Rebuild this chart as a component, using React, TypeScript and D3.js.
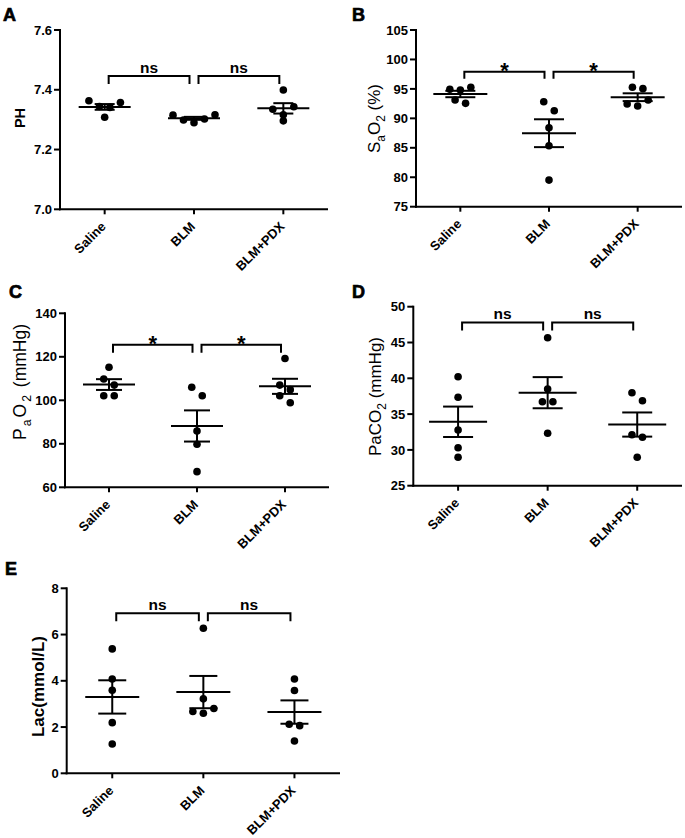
import React from "react";
import * as d3 from "d3";

// ---------- data ----------
const groups = ["Saline", "BLM", "BLM+PDX"];

const phValues = [
  [7.357, 7.363, 7.344, 7.341, 7.308],
  [7.315, 7.302, 7.29, 7.299, 7.316],
  [7.399, 7.343, 7.335, 7.316, 7.296],
];
const sao2Values = [
  [94.93, 94.81, 95.27, 92.55, 93.11],
  [92.82, 91.3, 88.4, 85.35, 79.52],
  [95.27, 95.04, 93.11, 92.43, 92.1],
];
const pao2Values = [
  [115.2, 109.8, 107.0, 102.1, 102.1],
  [106.0, 102.1, 85.9, 79.8, 67.2],
  [119.2, 107.0, 104.9, 102.1, 98.9],
];
const paco2Values = [
  [40.22, 37.35, 32.78, 30.31, 28.97],
  [45.67, 38.5, 36.73, 36.73, 32.32],
  [37.99, 36.87, 32.12, 31.76, 28.97],
];
const lacValues = [
  [5.38, 4.08, 3.59, 2.19, 1.27],
  [6.27, 3.22, 2.8, 2.67, 2.6],
  [4.08, 3.58, 2.12, 2.06, 1.4],
];

const phTicks = [7.0, 7.2, 7.4, 7.6];
const sao2Ticks = [75, 80, 85, 90, 95, 100, 105];
const pao2Ticks = [60, 80, 100, 120, 140];
const paco2Ticks = [25, 30, 35, 40, 45, 50];
const lacTicks = [0, 2, 4, 6, 8];

const phSig = ["ns", "ns"];
const sao2Sig = ["*", "*"];
const pao2Sig = ["*", "*"];
const paco2Sig = ["ns", "ns"];
const lacSig = ["ns", "ns"];

// bracket level in data units
const phBracket = 7.446;
const sao2Bracket = 97.9;
const pao2Bracket = 125.5;
const paco2Bracket = 47.8;
const lacBracket = 6.92;

// ---------- layout ----------
const FONT = "'Liberation Sans', Arial, Helvetica, sans-serif";

type TitlePart = { t: string; sub?: boolean; dx?: number };
type PanelCfg = {
  letter: string;
  lx: number;
  ly: number;
  x0: number;
  x1: number;
  yTop: number;
  yBot: number;
  values: number[][];
  ticks: number[];
  fmt: (v: number) => string;
  sig: string[];
  bracket: number;
  drop: number;
  meanHalf: number;
  semHalf: number;
  title: TitlePart[];
  titleX: number;
  titleY: number;
  titleSize: number;
  titleWeight: string;
};

const panels: PanelCfg[] = [
  {
    letter: "A", lx: 3, ly: 21,
    x0: 60, x1: 328, yTop: 30, yBot: 209.3,
    values: phValues, ticks: phTicks, fmt: d3.format(".1f"),
    sig: phSig, bracket: phBracket, drop: 8, meanHalf: 26, semHalf: 10,
    title: [{ t: "PH" }], titleX: 25.3, titleY: 118, titleSize: 14.5, titleWeight: "bold",
  },
  {
    letter: "B", lx: 352, ly: 21,
    x0: 416, x1: 682, yTop: 30, yBot: 206.7,
    values: sao2Values, ticks: sao2Ticks, fmt: d3.format("d"),
    sig: sao2Sig, bracket: sao2Bracket, drop: 7, meanHalf: 27, semHalf: 15,
    title: [{ t: "S" }, { t: "a", sub: true }, { t: "O" }, { t: "2", sub: true }, { t: " (%)" }],
    titleX: 379.5, titleY: 118.5, titleSize: 17, titleWeight: "normal",
  },
  {
    letter: "C", lx: 9, ly: 298,
    x0: 65, x1: 329, yTop: 313.3, yBot: 487.3,
    values: pao2Values, ticks: pao2Ticks, fmt: d3.format("d"),
    sig: pao2Sig, bracket: pao2Bracket, drop: 8, meanHalf: 26, semHalf: 13,
    title: [
      { t: "P" },
      { t: "a", sub: true, dx: 2 },
      { t: "O", dx: 2 },
      { t: "2", sub: true, dx: 2 },
      { t: " (mmHg)", dx: 3 },
    ],
    titleX: 25.5, titleY: 382, titleSize: 17.5, titleWeight: "normal",
  },
  {
    letter: "D", lx: 352, ly: 298,
    x0: 413.3, x1: 682, yTop: 306.7, yBot: 485.7,
    values: paco2Values, ticks: paco2Ticks, fmt: d3.format("d"),
    sig: paco2Sig, bracket: paco2Bracket, drop: 8, meanHalf: 29, semHalf: 15,
    title: [{ t: "PaCO" }, { t: "2", sub: true }, { t: " (mmHg)" }],
    titleX: 380.5, titleY: 396.5, titleSize: 17, titleWeight: "normal",
  },
  {
    letter: "E", lx: 5, ly: 575,
    x0: 66.7, x1: 340, yTop: 588.3, yBot: 773.3,
    values: lacValues, ticks: lacTicks, fmt: d3.format("d"),
    sig: lacSig, bracket: lacBracket, drop: 8, meanHalf: 27, semHalf: 14,
    title: [{ t: "Lac(mmol/L)" }], titleX: 44, titleY: 686.5, titleSize: 17, titleWeight: "bold",
  },
];

const ROW_THRESHOLD = 9.5;
const SPACING = 10.5;

// Prism-like scatter: bin points into rows, spread each row symmetrically
function swarmOffsets(vals: number[], py: (v: number) => number): number[] {
  const order = vals.map((_, i) => i).sort((a, b) => py(vals[a]) - py(vals[b]));
  const offsets = new Array(vals.length).fill(0);
  let i = 0;
  while (i < order.length) {
    const start = py(vals[order[i]]);
    const row: number[] = [];
    while (i < order.length && py(vals[order[i]]) - start < ROW_THRESHOLD) {
      row.push(order[i]);
      i++;
    }
    row.sort((a, b) => vals[a] - vals[b]);
    const n = row.length;
    const slots: number[] = [];
    if (n % 2 === 1) {
      slots.push(0);
      for (let k = 1; slots.length < n; k++) slots.push(-k, k);
    } else {
      for (let k = 0; slots.length < n; k++) slots.push(k + 0.5, -(k + 0.5));
    }
    row.forEach((idx, j) => (offsets[idx] = slots[j] * SPACING));
  }
  return offsets;
}

function Panel({ p }: { p: PanelCfg }) {
  const y = d3
    .scaleLinear()
    .domain([p.ticks[0], p.ticks[p.ticks.length - 1]])
    .range([p.yBot, p.yTop]);
  const x = d3.scaleBand<string>().domain(groups).range([p.x0, p.x1]);
  const cx = (g: string) => (x(g) as number) + x.bandwidth() / 2;
  const by = y(p.bracket);

  const brackets = [
    [cx(groups[0]) + 4, cx(groups[1]) - 4.5],
    [cx(groups[1]) + 4.5, cx(groups[2]) - 4],
  ];

  let sub = false;
  const subShift = 5;
  const titleSpans = p.title.map((part, i) => {
    let dy = 0;
    if (part.sub && !sub) dy = subShift;
    if (!part.sub && sub) dy = -subShift;
    sub = !!part.sub;
    return (
      <tspan
        key={i}
        dx={part.dx || undefined}
        dy={dy || undefined}
        fontSize={part.sub ? p.titleSize * 0.7 : undefined}
      >
        {part.t}
      </tspan>
    );
  });

  return (
    <g>
      <text
        x={p.lx}
        y={p.ly}
        fontFamily={FONT}
        fontWeight="bold"
        fontSize={18}
        stroke="#000"
        strokeWidth={0.7}
      >
        {p.letter}
      </text>
      {/* axes */}
      <line x1={p.x0} x2={p.x0} y1={p.yTop - 1} y2={p.yBot + 1} stroke="#000" strokeWidth={2} />
      <line x1={p.x0 - 1} x2={p.x1} y1={p.yBot} y2={p.yBot} stroke="#000" strokeWidth={2} />
      {p.ticks.map((t) => (
        <g key={t}>
          <line x1={p.x0 - 6} x2={p.x0} y1={y(t)} y2={y(t)} stroke="#000" strokeWidth={2} />
          <text
            x={p.x0 - 8}
            y={y(t)}
            dy="0.36em"
            textAnchor="end"
            fontFamily={FONT}
            fontWeight="bold"
            fontSize={13}
          >
            {p.fmt(t)}
          </text>
        </g>
      ))}
      {groups.map((g) => (
        <g key={g}>
          <line x1={cx(g)} x2={cx(g)} y1={p.yBot} y2={p.yBot + 5} stroke="#000" strokeWidth={2} />
          <text
            transform={`translate(${cx(g) + 2},${p.yBot + 18}) rotate(-45)`}
            textAnchor="end"
            fontFamily={FONT}
            fontWeight="bold"
            fontSize={13}
          >
            {g}
          </text>
        </g>
      ))}
      <text
        transform={`translate(${p.titleX},${p.titleY}) rotate(-90)`}
        textAnchor="middle"
        fontFamily={FONT}
        fontWeight={p.titleWeight}
        fontSize={p.titleSize}
      >
        {titleSpans}
      </text>
      {/* data */}
      {groups.map((g, gi) => {
        const vals = p.values[gi];
        const m = d3.mean(vals) as number;
        const sem = (d3.deviation(vals) as number) / Math.sqrt(vals.length);
        const c = cx(g);
        const offs = swarmOffsets(vals, (v) => y(v));
        return (
          <g key={g}>
            {vals.map((v, i) => (
              <circle key={i} cx={c + offs[i]} cy={y(v)} r={3.8} fill="#000" />
            ))}
            <line x1={c - p.meanHalf} x2={c + p.meanHalf} y1={y(m)} y2={y(m)} stroke="#000" strokeWidth={2} />
            <line x1={c} x2={c} y1={y(m + sem)} y2={y(m - sem)} stroke="#000" strokeWidth={2} />
            <line x1={c - p.semHalf} x2={c + p.semHalf} y1={y(m + sem)} y2={y(m + sem)} stroke="#000" strokeWidth={2} />
            <line x1={c - p.semHalf} x2={c + p.semHalf} y1={y(m - sem)} y2={y(m - sem)} stroke="#000" strokeWidth={2} />
          </g>
        );
      })}
      {/* significance brackets */}
      {brackets.map(([a, b], i) => (
        <g key={i}>
          <path
            d={`M${a},${by + p.drop}V${by}H${b}V${by + p.drop}`}
            fill="none"
            stroke="#000"
            strokeWidth={2}
          />
          <text
            x={(a + b) / 2}
            y={p.sig[i] === "*" ? by + 6 : by - 3}
            textAnchor="middle"
            fontFamily={FONT}
            fontWeight="bold"
            fontSize={p.sig[i] === "*" ? 22 : 15.5}
          >
            {p.sig[i]}
          </text>
        </g>
      ))}
    </g>
  );
}

export default function App() {
  return (
    <svg
      width={685}
      height={838}
      viewBox="0 0 685 838"
      style={{ position: "absolute", left: 0, top: 0, background: "#fff" }}
    >
      <rect width={685} height={838} fill="#fff" />
      {panels.map((p) => (
        <Panel key={p.letter} p={p} />
      ))}
    </svg>
  );
}
